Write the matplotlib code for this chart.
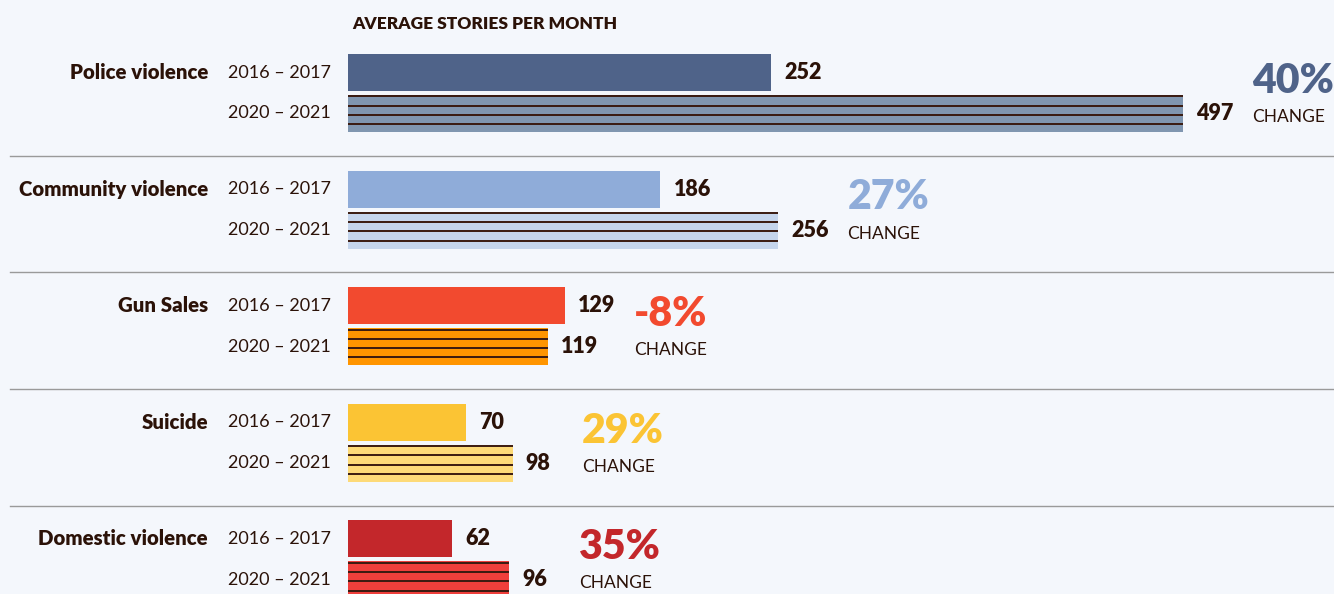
import numpy as np
import matplotlib.pyplot as plt
from matplotlib.transforms import blended_transform_factory

categories = ["Police violence", "Community violence", "Gun Sales", "Suicide", "Domestic violence"]
periods = ["2016 – 2017", "2020 – 2021"]
stories_2016 = [252, 186, 129, 70, 62]
stories_2020 = [497, 256, 119, 98, 96]
change_labels = ["40%", "27%", "-8%", "29%", "35%"]

colors_2016 = ["#4f6389", "#8facd9", "#f24a2f", "#fbc434", "#c3272b"]
colors_2020 = ["#8096b0", "#c5d5ec", "#ff9500", "#fdda78", "#ef3f3b"]

BG = "#f4f7fc"
INK = "#2b1208"
STRIPE = "#3a1a10"
FONT = "Lato"

W, H = 1334, 594
PX = 1.68          # pixels per story
X0 = 348           # pixel where bars start
PITCH = 116.6      # pixels between groups
Y0 = 72.5          # pixel centre of first bar
BAR_H = 37 / PITCH
OFF = 41 / PITCH

fig = plt.figure(figsize=(W / 100, H / 100), dpi=100, facecolor=BG)
ax = fig.add_axes([0, 0, 1, 1])
ax.set_facecolor(BG)
ax.set_xlim(-X0 / PX, (W - X0) / PX)
ax.set_ylim((H - Y0) / PITCH, -Y0 / PITCH)
ax.axis("off")

y1 = np.arange(len(categories))
y2 = y1 + OFF

ax.barh(y1, stories_2016, height=BAR_H, color=colors_2016, left=0)
ax.barh(y2, stories_2020, height=BAR_H, color=colors_2020, left=0)

# stripes on the 2020-2021 bars
for y, v in zip(y2, stories_2020):
    for k in range(4):
        ax.hlines(y - BAR_H / 2 + k * BAR_H / 4 + 0.012, 0, v, color=STRIPE, lw=1.4)

# separators between groups
for y in y1[:-1] + 0.715:
    ax.axhline(y, xmin=10 / W, xmax=1, color="#9a9a9a", lw=1)

fx = blended_transform_factory(fig.transFigure, ax.transData)
for i, cat in enumerate(categories):
    ax.text(208 / W, y1[i], cat, transform=fx, ha="right", va="center",
            fontsize=14.7, fontweight="heavy", color=INK, family=FONT)
    ax.text(331 / W, y1[i], periods[0], transform=fx, ha="right", va="center",
            fontsize=13, color=INK, family=FONT)
    ax.text(331 / W, y2[i], periods[1], transform=fx, ha="right", va="center",
            fontsize=13, color=INK, family=FONT)

    for y, v in ((y1[i], stories_2016[i]), (y2[i], stories_2020[i])):
        ax.annotate(str(v), (v, y), xytext=(9.5, 0), textcoords="offset points",
                    ha="left", va="center", fontsize=15.5, fontweight="heavy",
                    color=INK, family=FONT)

    top = max(stories_2016[i], stories_2020[i])
    ax.annotate(change_labels[i], (top, y1[i]), xytext=(50, -6), textcoords="offset points",
                ha="left", va="center", fontsize=29.5, fontweight="heavy",
                color=colors_2016[i], family=FONT)
    ax.annotate("CHANGE", (top, y2[i]), xytext=(50, -2.5), textcoords="offset points",
                ha="left", va="center", fontsize=12.5,
                color=INK, family=FONT)

fig.text(352 / W, 1 - 16 / H, "AVERAGE STORIES PER MONTH", ha="left", va="top",
         fontsize=12.5, fontweight="heavy", color=INK, family=FONT)

fig.savefig("out.png", dpi=100, facecolor=BG)
